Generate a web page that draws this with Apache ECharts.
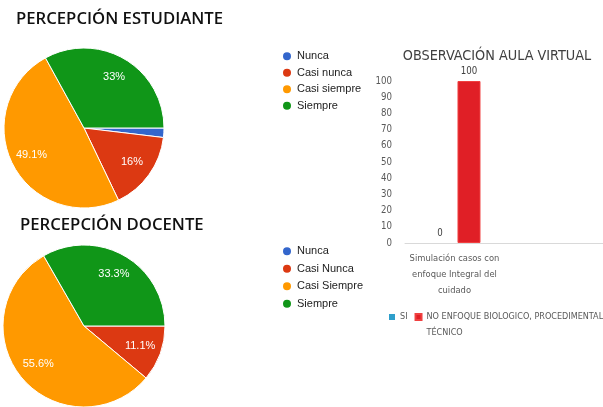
<!DOCTYPE html>
<html>
<head>
<meta charset="utf-8">
<script src="https://cdn.jsdelivr.net/npm/echarts@6/dist/echarts.min.js"></script>
<style>html,body{margin:0;padding:0;background:#fff}#c{width:603px;height:407px}</style>
</head>
<body>
<div id="c"></div>
<script>
// ---- data ----
var studentNames = ['Nunca', 'Casi nunca', 'Casi siempre', 'Siempre'];
var studentValues = [1.9, 16, 49.1, 33];
var teacherNames = ['Nunca', 'Casi Nunca', 'Casi Siempre', 'Siempre'];
var teacherValues = [0, 11.1, 55.6, 33.3];
var pieColors = ['#3366cc', '#dc3912', '#ff9900', '#109618'];

var barCategories = ['Simulación casos con\nenfoque Integral del\ncuidado', ''];
var barSeriesNames = ['SI', 'NO ENFOQUE BIOLOGICO, PROCEDIMENTAL\nTÉCNICO'];
var barSI = [0, null];
var barNO = [100, null];
var yTicks = [0, 10, 20, 30, 40, 50, 60, 70, 80, 90, 100];

var narrow = '"DejaVu Sans Condensed", "DejaVu Sans", sans-serif';

function pieData(names, values) {
  return names.map(function (n, i) {
    return { name: n, value: values[i], itemStyle: { color: pieColors[i] } };
  });
}
function pieSeries(names, values, center, r) {
  return {
    type: 'pie', center: center, radius: r, startAngle: 0, clockwise: true,
    label: { show: false }, labelLine: { show: false },
    itemStyle: { borderColor: '#fff', borderWidth: 1 },
    emphasis: { disabled: true },
    data: pieData(names, values)
  };
}
function pieLabels(names, values, center, r) {
  return {
    type: 'pie', center: center, radius: [r * 0.4, r], startAngle: 0, clockwise: true,
    silent: true, emphasis: { disabled: true },
    itemStyle: { color: 'rgba(0,0,0,0)' },
    label: {
      show: true, position: 'inside', color: '#fff', fontFamily: 'Arial, "Liberation Sans"', fontSize: 11,
      formatter: function (p) { return p.value >= 5 ? p.value + '%' : ''; }
    },
    labelLine: { show: false },
    data: names.map(function (n, i) { return { name: n, value: values[i] }; })
  };
}

var chart = echarts.init(document.getElementById('c'));
chart.setOption({
  animation: false,
  title: [
    { text: 'PERCEPCIÓN ESTUDIANTE', left: 16, top: 11, padding: 0,
      textStyle: { fontFamily: '"Open Sans"', fontWeight: 600, fontSize: 16.7, color: '#111' } },
    { text: 'PERCEPCIÓN DOCENTE', left: 20, top: 217, padding: 0,
      textStyle: { fontFamily: '"Open Sans"', fontWeight: 600, fontSize: 16.7, color: '#111' } },
    { text: 'OBSERVACIÓN AULA VIRTUAL', left: 497, textAlign: 'center', top: 49, padding: 0,
      textStyle: { fontFamily: narrow, fontWeight: 'normal', fontSize: 14.3, color: '#404040' } }
  ],
  legend: [
    { orient: 'vertical', left: 281, top: 50, padding: 0, icon: 'circle', itemWidth: 10, itemHeight: 10, itemGap: 4,
      data: studentNames, selectedMode: false,
      textStyle: { color: '#222', fontSize: 11, fontFamily: 'Arial, "Liberation Sans"', lineHeight: 12.5 } },
    { orient: 'vertical', left: 281, top: 245, padding: 0, icon: 'circle', itemWidth: 10, itemHeight: 10, itemGap: 5,
      data: teacherNames, selectedMode: false,
      textStyle: { color: '#222', fontSize: 11, fontFamily: 'Arial, "Liberation Sans"', lineHeight: 12.5 } },
    { orient: 'horizontal', left: 389, top: 293, width: 260, padding: 0, icon: 'rect', itemWidth: 6, itemHeight: 6, itemGap: 7,
      selectedMode: false,
      data: barSeriesNames,
      formatter: function (name) { return name.indexOf('\n') >= 0 ? '\n' + name : name; },
      textStyle: { color: '#595959', fontSize: 9, fontFamily: narrow, lineHeight: 16 } }
  ],
  grid: [{ left: 405, right: 0, top: 81, bottom: 164, containLabel: false }],
  xAxis: [{
    type: 'category', data: barCategories, gridIndex: 0,
    axisLine: { lineStyle: { color: '#d9d9d9' } }, axisTick: { show: false },
    axisLabel: { color: '#595959', fontFamily: narrow, fontSize: 9.3, lineHeight: 16, margin: 8, interval: 0 }
  }],
  yAxis: [{
    type: 'value', gridIndex: 0, min: 0, max: 100, interval: 10,
    axisLine: { show: false }, axisTick: { show: false }, splitLine: { show: false },
    axisLabel: { color: '#595959', fontFamily: narrow, fontSize: 9.6, margin: 13 }
  }],
  series: [
    pieSeries(studentNames, studentValues, [84, 128], 80),
    pieSeries(teacherNames, teacherValues, [84, 326], 81),
    pieLabels(studentNames, studentValues, [84, 128], 80),
    pieLabels(teacherNames, teacherValues, [84, 326], 81),
    { type: 'bar', name: barSeriesNames[0], data: barSI, barWidth: 23, barGap: '26%',
      itemStyle: { color: '#2e9fcb' },
      label: { show: true, position: 'top', distance: 5, color: '#404040', fontFamily: narrow, fontSize: 9.6 } },
    { type: 'bar', name: barSeriesNames[1], data: barNO, barWidth: 23,
      itemStyle: { color: '#e01f26', borderColor: '#f04040', borderWidth: 1 },
      label: { show: true, position: 'top', distance: 5, color: '#404040', fontFamily: narrow, fontSize: 9.6 } }
  ]
});
</script>
</body>
</html>
